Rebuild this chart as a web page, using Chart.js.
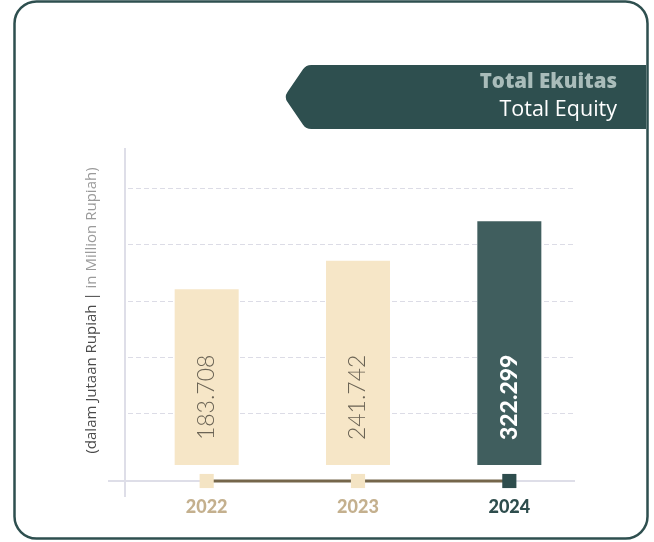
<!DOCTYPE html>
<html lang="id">
<head>
<meta charset="UTF-8">
<title>Total Ekuitas</title>
<script src="https://cdn.jsdelivr.net/npm/chart.js"></script>
<style>
    html, body { margin: 0; padding: 0; background: #fff; }
    canvas { display: block; }
</style>
</head>
<body>
<canvas id="equityChart" width="654" height="542"></canvas>
<script>
    // data (dalam Jutaan Rupiah)
    const years = ['2022', '2023', '2024'];
    const equity = [183708, 241742, 322299];
    const barColors = ['#f6e6c7', '#f6e6c7', '#405e5e'];
    const markerColors = ['#f4e4c4', '#f4e4c4', '#2e4d4d'];
    const yearColors = ['#c4b08e', '#c4b08e', '#2e4d4d'];
    const gridValues = [-70000, 45000, 160000, 275000, 390000];

    const yMin = -208000;
    const yMax = 472000;
    const barBase = -175500;

    const DARK = '#2e4f4f';

    function formatId(v) {
        return String(v).replace(/\B(?=(\d{3})+(?!\d))/g, '.');
    }

    // frame, banner, axes and dashed grid
    const decor = {
        id: 'decor',
        beforeDraw(chart) {
            const ctx = chart.ctx;
            ctx.save();
            ctx.fillStyle = '#fff';
            ctx.fillRect(0, 0, chart.width, chart.height);
            ctx.strokeStyle = DARK;
            ctx.lineWidth = 2.5;
            ctx.beginPath();
            ctx.roundRect(14.5, 1.5, 633, 537, 22);
            ctx.stroke();
            ctx.restore();
        },
        beforeDatasetsDraw(chart) {
            const ctx = chart.ctx;
            const y = chart.scales.y;
            const area = chart.chartArea;
            const axisX = area.left - 6;
            const right = area.right - 10;
            ctx.save();
            ctx.strokeStyle = '#dcdce6';
            ctx.lineWidth = 1;
            ctx.setLineDash([5, 3]);
            gridValues.forEach(v => {
                const py = Math.round(y.getPixelForValue(v)) + 0.5;
                ctx.beginPath();
                ctx.moveTo(axisX + 3, py);
                ctx.lineTo(right, py);
                ctx.stroke();
            });
            ctx.setLineDash([]);
            ctx.lineWidth = 2;
            ctx.strokeStyle = '#dedee8';
            ctx.beginPath();
            ctx.moveTo(axisX, area.top);
            ctx.lineTo(axisX, area.bottom + 16);
            ctx.stroke();
            ctx.beginPath();
            ctx.moveTo(axisX - 17, area.bottom);
            ctx.lineTo(right, area.bottom);
            ctx.stroke();

            // y axis caption in two tones
            const partA = '(dalam Jutaan Rupiah | ';
            const partB = 'in Million Rupiah)';
            ctx.font = '15px "Open Sans"';
            const wA = ctx.measureText(partA).width;
            const wB = ctx.measureText(partB).width;
            ctx.translate(axisX - 33, (area.top + area.bottom) / 2 - 4);
            ctx.rotate(-Math.PI / 2);
            ctx.textBaseline = 'middle';
            ctx.textAlign = 'left';
            ctx.fillStyle = '#4a4a4a';
            ctx.fillText(partA, -(wA + wB) / 2, 0);
            ctx.fillStyle = '#9a9a9a';
            ctx.fillText(partB, -(wA + wB) / 2 + wA, 0);
            ctx.restore();
        },
        afterDraw(chart) {
            const ctx = chart.ctx;
            ctx.save();
            // title banner
            const top = 65, bottom = 129, tip = 284, mid = 97, right = 646;
            ctx.fillStyle = DARK;
            ctx.beginPath();
            ctx.moveTo(right, top);
            ctx.arcTo(306, top, tip, mid, 10);
            ctx.arcTo(tip, mid, 306, bottom, 9);
            ctx.arcTo(306, bottom, right, bottom, 10);
            ctx.lineTo(right, bottom);
            ctx.closePath();
            ctx.fill();
            ctx.textAlign = 'right';
            ctx.textBaseline = 'alphabetic';
            ctx.fillStyle = '#a9bcba';
            ctx.font = '800 20.5px "Open Sans"';
            ctx.fillText('Total Ekuitas', 617, 88);
            ctx.fillStyle = '#ffffff';
            ctx.font = '21.5px "Open Sans"';
            ctx.fillText('Total Equity', 617, 116);
            ctx.restore();
        }
    };

    // rotated value inside each bar
    const barValues = {
        id: 'barValues',
        afterDatasetsDraw(chart) {
            const ctx = chart.ctx;
            const meta = chart.getDatasetMeta(0);
            meta.data.forEach((bar, i) => {
                const last = i === equity.length - 1;
                ctx.save();
                ctx.translate(bar.x, bar.base - 25);
                ctx.rotate(-Math.PI / 2);
                ctx.textAlign = 'left';
                ctx.textBaseline = 'middle';
                ctx.font = last ? '900 23px Lato' : '300 23px Lato';
                ctx.fillStyle = last ? '#ffffff' : '#6b6455';
                ctx.fillText(formatId(equity[i]), 0, 0);
                ctx.restore();
            });
        }
    };

    new Chart(document.getElementById('equityChart'), {
        type: 'bar',
        data: {
            labels: years,
            datasets: [{
                label: 'Total Ekuitas',
                data: equity,
                base: barBase,
                backgroundColor: barColors,
                barPercentage: 0.423,
                categoryPercentage: 1,
                order: 2
            }, {
                type: 'line',
                label: 'timeline',
                data: years.map(() => yMin),
                borderColor: '#75664b',
                borderWidth: 3,
                pointStyle: 'rect',
                pointRadius: 10,
                pointHoverRadius: 10,
                pointBorderWidth: 0,
                pointBackgroundColor: markerColors,
                clip: false,
                order: 1
            }]
        },
        options: {
            responsive: false,
            animation: false,
            layout: { padding: { left: 131, right: 69, top: 148, bottom: 21 } },
            plugins: {
                legend: { display: false },
                tooltip: { enabled: false }
            },
            scales: {
                x: {
                    grid: { display: false },
                    border: { display: false },
                    ticks: {
                        color: yearColors,
                        padding: 7,
                        font: { family: 'Lato', size: 18, weight: '900' }
                    },
                    afterFit(scale) { scale.height = 40; }
                },
                y: {
                    display: false,
                    min: yMin,
                    max: yMax
                }
            }
        },
        plugins: [decor, barValues]
    });
</script>
</body>
</html>
